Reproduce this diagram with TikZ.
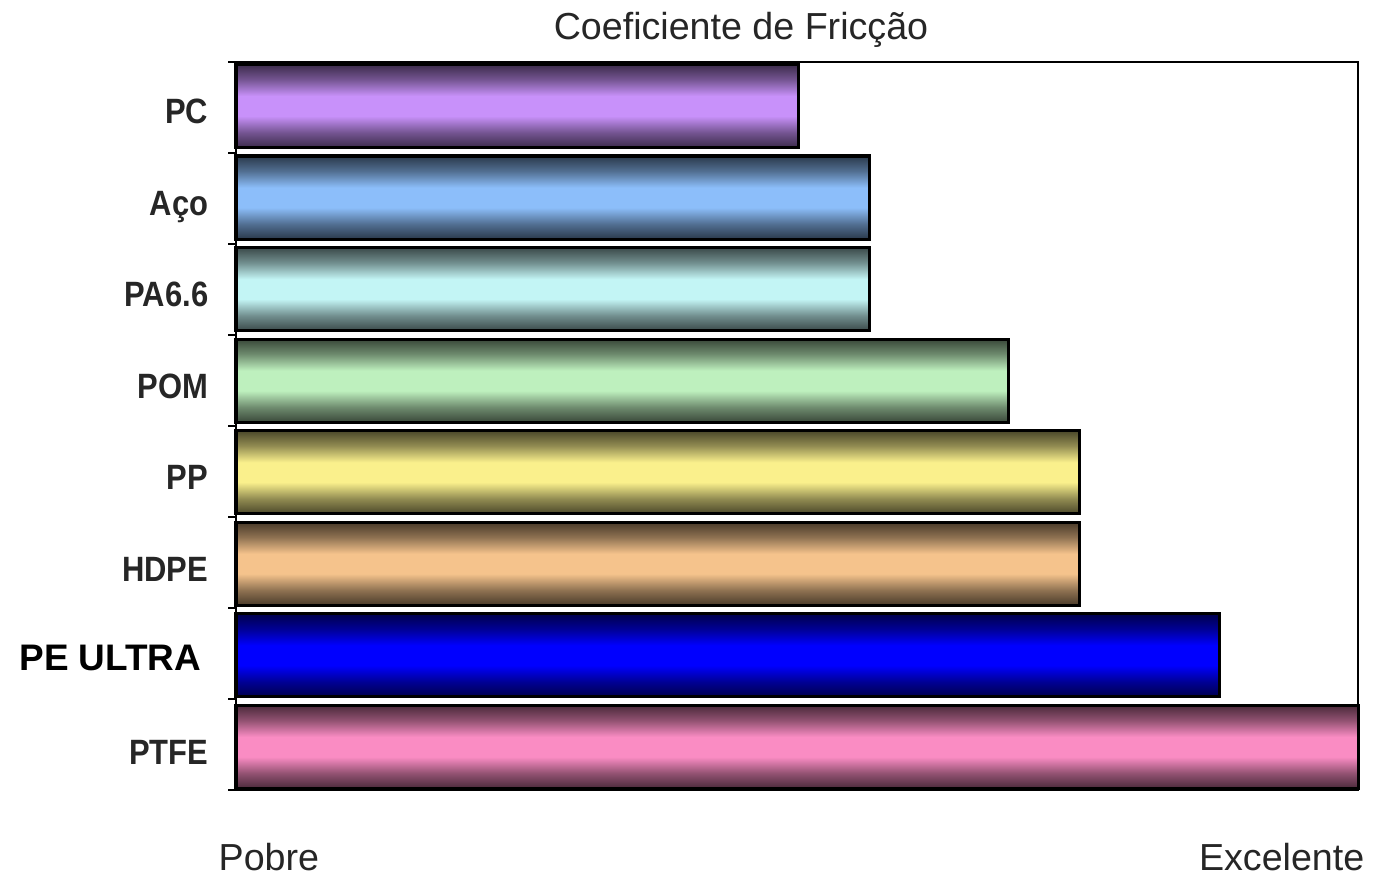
\documentclass[tikz,border=0pt]{standalone}
\usepackage{fontspec}
\setmainfont{Liberation Sans}
\newfontfamily\catfont[FakeStretch=0.88]{Liberation Sans}
\usetikzlibrary{positioning}

% cores das barras (tom claro; o tom escuro vem da sombra)
\definecolor{pccolor}{RGB}{200,145,250}
\definecolor{acocolor}{RGB}{140,190,250}
\definecolor{pacolor}{RGB}{195,245,245}
\definecolor{pomcolor}{RGB}{190,240,190}
\definecolor{ppcolor}{RGB}{250,240,140}
\definecolor{hdpecolor}{RGB}{245,195,140}
\definecolor{pecolor}{RGB}{0,0,255}
\definecolor{ptfecolor}{RGB}{250,140,195}
\colorlet{barlight}{white}

% brilho vertical: escuro nas bordas, claro no meio
\pgfdeclareverticalshading[barlight]{glossbar}{100bp}{%
  color(0bp)=(barlight!30!black); color(25bp)=(barlight!30!black);
  color(34bp)=(barlight!58!black); color(44bp)=(barlight);
  color(56bp)=(barlight); color(66bp)=(barlight!58!black);
  color(75bp)=(barlight!30!black); color(100bp)=(barlight!30!black)}

\begin{document}
\begin{tikzpicture}[
    x=0.01cm, y=-0.01cm, % 1 unidade = 1 pixel da imagem
    font=\fontsize{10.7}{13}\selectfont,
    % --- estilos ---
    % barra horizontal com sombra
    bar/.style={
        draw=black,
        line width=0.9pt,
        /utils/exec={\colorlet{barlight}{#1}},
        shade,
        shading=glossbar,
        minimum height=0.83cm,
        inner sep=0pt,
        outer sep=0pt,
        anchor=north west
    },
    % barra seguinte, logo abaixo
    next bar/.style={below right=0.085cm and 0cm of #1.south west},
    % moldura e marcas do eixo
    frame line/.style={draw=black, line width=0.7pt},
    % nomes dos materiais
    cat label/.style={
        left=0.27cm,
        anchor=base east,
        yshift=-0.175cm,
        inner sep=0pt,
        font=\catfont\bfseries\fontsize{10}{12}\selectfont,
        text=black!85
    },
    % textos do eixo
    axis text/.style={inner sep=0pt, text=black!85}
]

    % ====== moldura e marcas ======
    \draw[frame line] (236,62) -- (1358,62) -- (1358,790) -- (236,790) -- cycle;
    \draw[frame line] (228,62) -- (236,62) (228,153) -- (236,153)
        (228,244) -- (236,244) (228,335) -- (236,335) (228,426) -- (236,426)
        (228,517) -- (236,517) (228,608) -- (236,608) (228,699) -- (236,699)
        (228,790) -- (236,790);

    % ====== barras ======
    \node[bar=pccolor, minimum width=5.62cm] (pc bar) at (236,64.5) {};
    \node[bar=acocolor, minimum width=6.33cm, next bar=pc bar] (aco bar) {};
    \node[bar=pacolor, minimum width=6.33cm, next bar=aco bar] (pa bar) {};
    \node[bar=pomcolor, minimum width=7.72cm, next bar=pa bar] (pom bar) {};
    \node[bar=ppcolor, minimum width=8.43cm, next bar=pom bar] (pp bar) {};
    \node[bar=hdpecolor, minimum width=8.43cm, next bar=pp bar] (hdpe bar) {};
    \node[bar=pecolor, minimum width=9.83cm, next bar=hdpe bar] (pe bar) {};
    \node[bar=ptfecolor, minimum width=11.22cm, next bar=pe bar] (ptfe bar) {};

    % ====== nomes ======
    \node[cat label] (pc label) at (pc bar.west) {PC};
    \node[cat label] (aco label) at (aco bar.west) {Aço};
    \node[cat label] (pa label) at (pa bar.west) {PA6.6};
    \node[cat label] (pom label) at (pom bar.west) {POM};
    \node[cat label] (pp label) at (pp bar.west) {PP};
    \node[cat label] (hdpe label) at (hdpe bar.west) {HDPE};
    \node[cat label, xshift=-0.07cm, yshift=0.02cm, text=black,
        font=\bfseries\fontsize{10.5}{12}\selectfont] (pe label) at (pe bar.west) {PE ULTRA};
    \node[cat label] (ptfe label) at (ptfe bar.west) {PTFE};

    % ====== título e eixo ======
    \node[axis text, anchor=base] (title) at (741,40) {Coeficiente de Fricção};
    \node[axis text, anchor=base west] (poor) at (218,871) {Pobre};
    \node[axis text, anchor=base east] (excellent) at (1365,871) {Excelente};

    \useasboundingbox (0,0) rectangle (1375,877);

\end{tikzpicture}
\end{document}
